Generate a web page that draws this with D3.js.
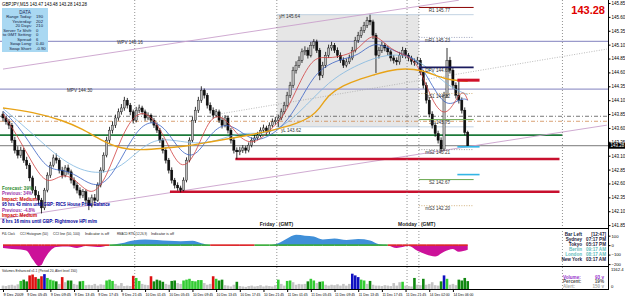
<!DOCTYPE html>
<html>
<head>
<meta charset="utf-8">
<script src="https://cdn.jsdelivr.net/npm/d3@7"></script>
<style>
  body { margin: 0; background: #fff; }
  svg { display: block; font-family: "Liberation Sans", Arial, sans-serif; }
</style>
</head>
<body>
<svg id="chart"></svg>
<script>
// ---- series (30 min bars, open = previous close) ----
const firstOpen = 143.85;
const barClose = [
  143.78,143.71,143.65,143.38,143.20,143.11,143.20,143.02,142.93,142.70,
  142.48,142.39,142.30,142.16,142.48,142.75,142.93,143.06,143.02,142.84,
  142.75,142.88,142.81,142.66,142.57,142.48,142.39,142.45,142.30,142.21,
  142.34,142.30,142.57,142.84,143.11,143.38,143.56,143.65,143.78,143.89,
  143.96,144.10,144.01,143.89,143.74,143.92,143.96,143.89,143.78,143.83,
  143.74,143.65,143.56,143.38,143.20,143.02,142.84,142.66,142.57,142.52,
  142.48,142.66,143.02,143.38,143.74,143.92,144.10,144.28,144.19,144.01,
  143.92,143.83,143.89,143.74,143.65,143.78,143.56,143.38,143.20,143.17,
  143.20,143.24,143.20,143.29,143.38,143.42,143.47,143.56,143.60,143.53,
  143.65,143.71,143.74,143.78,143.89,144.01,144.19,144.37,144.64,144.73,
  144.82,144.97,145.00,144.91,145.09,145.15,145.00,144.55,144.73,144.91,
  145.04,145.09,145.00,144.91,144.82,144.73,144.79,144.86,145.00,145.18,
  145.27,145.36,145.45,145.54,145.51,145.27,144.91,145.00,145.09,145.04,
  144.97,144.86,144.82,144.79,144.91,145.00,144.91,144.86,144.80,144.78,
  144.82,144.60,144.37,144.10,143.85,143.65,143.50,143.38,143.22,144.19,
  144.82,144.64,144.37,144.19,144.10,143.92,143.52,143.28
];
const barHigh = [
  143.90,143.82,143.76,143.69,143.44,143.27,143.26,143.24,143.08,142.97,
  142.74,142.55,142.46,142.34,142.52,142.80,142.99,143.12,143.14,143.06,
  142.90,142.93,142.94,142.85,142.71,142.62,142.53,142.50,142.49,142.35,
  142.40,142.41,142.62,142.89,143.16,143.44,143.62,143.72,143.84,143.95,
  144.03,144.16,144.14,144.05,143.93,143.98,144.02,144.00,143.93,143.88,
  143.86,143.78,143.70,143.60,143.42,143.25,143.06,142.89,142.70,142.62,
  142.56,142.71,143.07,143.43,143.80,143.98,144.16,144.35,144.31,144.23,
  144.06,143.97,143.94,143.93,143.79,143.83,143.82,143.60,143.43,143.25,
  143.26,143.29,143.28,143.34,143.43,143.48,143.53,143.61,143.66,143.64,
  143.70,143.77,143.80,143.84,143.95,144.07,144.25,144.43,144.70,144.80,
  144.89,145.03,145.07,145.05,145.15,145.20,145.19,145.04,144.79,144.97,
  145.10,145.15,145.13,145.05,144.96,144.87,144.85,144.92,145.06,145.24,
  145.33,145.42,145.51,145.60,145.64,145.55,145.31,145.06,145.15,145.13,
  145.08,145.01,144.91,144.87,144.97,145.06,145.04,144.95,144.90,144.85,
  144.88,144.86,144.64,144.42,144.15,143.90,143.70,143.55,143.43,144.25,
  145.04,144.88,144.69,144.42,144.46,144.15,143.97,143.55
];
const barLow = [
  143.72,143.66,143.58,143.33,143.14,143.05,143.06,142.97,142.86,142.64,
  142.42,142.33,142.22,142.06,142.12,142.44,142.70,142.89,142.96,142.78,
  142.69,142.71,142.76,142.60,142.51,142.42,142.33,142.34,142.24,142.12,
  142.17,142.25,142.27,142.53,142.80,143.07,143.33,143.50,143.60,143.73,
  143.84,143.91,143.95,143.83,143.68,143.70,143.87,143.84,143.73,143.74,
  143.69,143.60,143.51,143.33,143.14,142.96,142.78,142.60,142.51,142.47,
  142.44,142.46,142.62,142.98,143.34,143.69,143.87,144.05,144.13,143.95,
  143.86,143.77,143.79,143.69,143.59,143.61,143.50,143.32,143.14,143.04,
  143.11,143.15,143.14,143.16,143.25,143.33,143.38,143.43,143.51,143.48,
  143.49,143.61,143.66,143.62,143.74,143.85,143.97,144.14,144.32,144.58,
  144.68,144.77,144.91,144.85,144.87,145.03,144.95,144.46,144.50,144.68,
  144.86,144.99,144.95,144.86,144.77,144.68,144.69,144.75,144.82,144.96,
  145.13,145.22,145.31,145.40,145.45,145.20,144.59,144.85,144.95,144.98,
  144.91,144.80,144.76,144.73,144.74,144.86,144.85,144.80,144.74,144.72,
  144.74,144.55,144.31,144.04,143.79,143.59,143.44,143.32,143.16,143.18,
  144.14,144.58,144.31,144.13,144.04,143.86,143.47,143.26
];
const barVolume = [
  40,35,45,50,40,55,95,110,90,160,
  170,140,120,150,175,130,110,100,90,60,
  140,80,100,100,60,50,90,95,45,50,
  45,60,40,55,50,100,110,95,60,40,
  70,35,40,35,155,130,95,60,50,45,
  150,90,110,100,85,60,50,95,100,70,
  60,100,110,120,95,90,105,105,70,50,
  60,150,120,100,110,45,40,30,50,85,
  35,30,25,35,40,30,35,45,30,40,
  35,30,45,110,60,40,95,100,80,50,
  60,55,60,90,120,100,70,85,90,50,
  40,50,45,55,40,60,40,60,180,160,
  140,110,100,60,95,50,40,40,35,45,
  40,35,70,40,80,85,40,35,30,130,
  50,45,120,50,60,80,45,40,90,160,
  120,50,60,45,110,100,130,93
];
// CCI histogram, [bar, value]
const cciPoints = [
  [0,-30],[3,-40],[6,-45],[8,-60],[10,-150],[12,-220],[13,-210],[14,-150],[16,-60],[18,-20],
  [22,-15],[25,-30],[28,-10],[32,-20],[36,0],[40,20],[44,50],[48,60],[52,55],[56,45],
  [60,40],[64,45],[67,20],[70,0],[75,-5],[80,-10],[85,0],[90,0],[93,20],[96,70],
  [99,110],[102,100],[105,90],[108,60],[112,70],[116,55],[120,65],[124,50],[127,10],[130,0],
  [133,-30],[135,-20],[137,-10],[140,-60],[143,-100],[146,-120],[149,-70],[152,-40],[154,-70],[157,-50]
];
// moving averages, [bar, price]
const maSlow = [[0,143.96],[10,143.89],[20,143.74],[27,143.58],[33,143.38],[40,143.22],[47,143.20],
  [55,143.24],[62,143.27],[70,143.35],[80,143.44],[90,143.54],[100,143.69],[104,143.80],[107,143.95],
  [110,144.20],[115,144.37],[120,144.47],[125,144.55],[133,144.68],[142,144.65],[149,144.47],[157,144.44]];
const maFast = [[0,143.85],[5,143.45],[10,142.95],[15,142.55],[20,142.80],[25,142.65],[30,142.35],
  [35,142.70],[40,143.45],[45,143.90],[50,143.85],[55,143.40],[60,142.80],[65,143.10],[70,143.85],
  [75,143.80],[80,143.40],[85,143.30],[90,143.55],[95,143.80],[100,144.40],[105,144.90],[110,144.85],
  [115,144.90],[120,145.00],[125,145.35],[130,145.05],[135,144.92],[140,144.82],[145,144.05],
  [150,143.75],[155,144.35],[157,144.10]];
const maMid = [[0,143.90],[5,143.65],[10,143.25],[15,142.85],[20,142.85],[25,142.75],[30,142.55],
  [35,142.60],[40,143.05],[45,143.55],[50,143.75],[55,143.60],[60,143.15],[65,143.05],[70,143.50],
  [75,143.70],[80,143.55],[85,143.35],[90,143.45],[95,143.65],[100,144.05],[105,144.55],[110,144.75],
  [115,144.85],[120,144.90],[125,145.15],[130,145.05],[135,144.92],[140,144.85],[145,144.35],
  [150,143.95],[155,144.15],[157,144.10]];
const maLag = [[0,143.95],[10,143.50],[20,143.00],[30,142.75],[40,142.85],[50,143.45],[60,143.35],
  [70,143.30],[80,143.55],[90,143.45],[100,143.85],[110,144.45],[120,144.75],[130,144.95],
  [140,144.88],[150,144.35],[157,144.20]];

// axis labels
const priceTicks = [145.85,145.60,145.35,145.10,144.85,144.60,144.35,144.10,143.85,143.60,
  143.35,143.10,142.85,142.60,142.35,142.10,141.85];
const timeIdx = [0,8,16,24,32,40,48,56,64,72,80,88,96,104,112,120,128,136,144,152];
const timeLabels = ["9 Dec 2009","9 Dec 05:45","9 Dec 09:45","9 Dec 13:45","9 Dec 17:45","9 Dec 21:45",
  "10 Dec 01:45","10 Dec 05:45","10 Dec 09:45","10 Dec 13:45","10 Dec 17:45","10 Dec 21:45",
  "11 Dec 01:45","11 Dec 05:45","11 Dec 09:45","11 Dec 13:45","11 Dec 17:45","11 Dec 21:45",
  "14 Dec 02:00","14 Dec 06:00"];
const cciTicks = [100, 0, -100, -200];

// levels and sessions
const sessionLines = [44.5, 92.5, 136.5, 140.5, 189]; // bar positions of the dotted separators
const fridayStart = 92.5, mondayStart = 140.5, lastBar = 157;
const pivotNames = ["R1","mR1","DPV","mS1","S1","mS2","S2","mS3"];
const pivotValues = [145.77,145.23,144.69,144.22,143.75,143.21,142.67,142.20];
const weeklyPivot = 145.16, monthlyPivot = 144.30;
const prevHigh = 145.64, prevLow = 143.62;
const currentPrice = 143.28;
const openLevel = 143.47;
const dashLevels = [143.81, 143.72];
const supportLevels = [142.45, 143.04];
const supportFrom = [56.4, 78.5];
const supportTo = 188;
const trendUpper = [[0,144.66],[154,145.90]];
const trendLower = [[-1,141.96],[204,143.65]];
const trendMid = [[73,143.85],[204,145.02]];
const rangeMarks = [143.26, 142.76]; // light blue projections
const rangeBox = 144.46;

// texts
const titleText = "GBPJPY,M15  143.47 143.48 143.28 143.28";
const dataRows = [["Range Today:","190"],["Yesterday:","202"],["20 Days:","210"],["Server Tz Shift:","0"],
  ["to GMT Setting:","0"],["Spread:","6"],["Swap Long:","0.40"],["Swap Short:","-0.90"]];
const newsLines = ["Forecast: 39%","Previous: 34%","Impact: Medium",
  "95 hrs 43 mins until GBP: RICS House Price Balance","Previous: -4.8%","Impact: Medium",
  "8 hrs 16 mins until GBP: Rightmove HPI m/m"];
const clockRows = [["Bar Left","[12:47]"],["Sydney","07:17 PM"],["Tokyo","05:17 PM"],
  ["Berlin","09:17 AM"],["London","08:17 AM"],["New York","03:17 AM"]];
const volumeRows = [["Volume:","93 v"],["Percent:","19%"],["Alert:","150 v"]];

// ---- layout ----
const width = 625, height = 299, plotRight = 608;
const svg = d3.select("#chart").attr("width", width).attr("height", height);

const x = d3.scaleLinear().domain([0, 205]).range([3, 609.8]);
const y = d3.scaleLinear().domain([141.78, 145.904]).range([229, 0]);
const yCci = d3.scaleLinear().domain([-220, 170]).range([266, 229]);
const yVol = d3.scaleLinear().domain([0, 200]).range([289, 272]);

const defs = svg.append("defs");
function clip(id, x0, y0, w, h) {
  defs.append("clipPath").attr("id", id).append("rect")
    .attr("x", x0).attr("y", y0).attr("width", w).attr("height", h);
}
clip("clip-main", 0, 0, plotRight, 228);
clip("clip-cci-pos", 0, 229, plotRight, yCci(0) - 229);
clip("clip-cci-neg", 0, yCci(0), plotRight, 266 - yCci(0));
clip("clip-vol", 0, 267, plotRight, 22);

function txt(g, s, x0, y0, size, fill, opts = {}) {
  const t = g.append("text").attr("x", x0).attr("y", y0).attr("dy", "0.35em")
    .attr("font-size", size).attr("fill", fill).text(s);
  if (opts.anchor) t.attr("text-anchor", opts.anchor);
  if (opts.bold) t.attr("font-weight", "bold");
  if (opts.len) t.attr("textLength", opts.len).attr("lengthAdjust", "spacingAndGlyphs");
  return t;
}

const main = svg.append("g").attr("clip-path", "url(#clip-main)");

// previous day (Friday) range box
main.append("rect")
  .attr("x", x(fridayStart)).attr("width", x(mondayStart) - x(fridayStart))
  .attr("y", y(prevHigh)).attr("height", y(prevLow) - y(prevHigh))
  .attr("fill", "#e6e6e6");
[prevHigh, prevLow].forEach(p => {
  main.append("line").attr("x1", x(fridayStart)).attr("x2", x(lastBar + 2))
    .attr("y1", y(p)).attr("y2", y(p)).attr("stroke", "#b4c8dc").attr("stroke-width", 0.8);
});

// session separators (through all panels)
svg.append("g").selectAll("line").data(sessionLines).enter().append("line")
  .attr("x1", d => x(d)).attr("x2", d => x(d)).attr("y1", 0).attr("y2", 290)
  .attr("stroke", "#777").attr("stroke-width", 0.8).attr("stroke-dasharray", "1,2");

// weekly / monthly pivots
[weeklyPivot, monthlyPivot].forEach(p => {
  main.append("line").attr("x1", 0).attr("x2", plotRight).attr("y1", y(p)).attr("y2", y(p))
    .attr("stroke", "#9a9acb").attr("stroke-width", 1.3);
});

// dash-dot levels
dashLevels.forEach((p, i) => {
  main.append("line").attr("x1", 0).attr("x2", plotRight).attr("y1", y(p)).attr("y2", y(p))
    .attr("stroke", i === 0 ? "#555" : "#d08a50").attr("stroke-width", 0.8)
    .attr("stroke-dasharray", "4,2,1,2");
});

// open level and current price
main.append("line").attr("x1", 0).attr("x2", x(189)).attr("y1", y(openLevel)).attr("y2", y(openLevel))
  .attr("stroke", "#1d7a3a").attr("stroke-width", 1.6);
main.append("line").attr("x1", 0).attr("x2", plotRight).attr("y1", y(currentPrice)).attr("y2", y(currentPrice))
  .attr("stroke", "#555").attr("stroke-width", 0.8);

// trend lines
const seg = d3.line().x(d => x(d[0])).y(d => y(d[1]));
main.append("path").attr("d", seg(trendUpper)).attr("fill", "none").attr("stroke", "#c9a0cc").attr("stroke-width", 0.9);
main.append("path").attr("d", seg(trendLower)).attr("fill", "none").attr("stroke", "#c9a0cc").attr("stroke-width", 0.9);
main.append("path").attr("d", seg(trendMid)).attr("fill", "none").attr("stroke", "#aaa")
  .attr("stroke-width", 0.8).attr("stroke-dasharray", "1,1.5");

// support lines
supportLevels.forEach((p, i) => {
  main.append("line").attr("x1", x(supportFrom[i])).attr("x2", x(supportTo))
    .attr("y1", y(p)).attr("y2", y(p)).attr("stroke", "#c8102e").attr("stroke-width", 2.6);
});

// candles
const bars = barClose.map((c, i) => ({
  i, o: i ? barClose[i - 1] : firstOpen, h: barHigh[i], l: barLow[i], c, v: barVolume[i]
}));
const candle = main.append("g");
candle.selectAll("line").data(bars).enter().append("line")
  .attr("x1", d => x(d.i)).attr("x2", d => x(d.i))
  .attr("y1", d => y(d.h)).attr("y2", d => y(d.l))
  .attr("stroke", "#000").attr("stroke-width", 0.8);
candle.selectAll("rect").data(bars).enter().append("rect")
  .attr("x", d => x(d.i) - 1.1).attr("width", 2.2)
  .attr("y", d => y(Math.max(d.o, d.c)))
  .attr("height", d => Math.max(0.8, Math.abs(y(d.o) - y(d.c))))
  .attr("fill", d => d.c >= d.o ? "#bdbdbd" : "#111")
  .attr("stroke", "#000").attr("stroke-width", 0.4);

// moving averages
const maLine = d3.line().x(d => x(d[0])).y(d => y(d[1])).curve(d3.curveBasis);
[[maLag, "#7fb6e0", 0.8], [maMid, "#3a62c4", 0.8], [maFast, "#d04040", 0.8], [maSlow, "#e8a317", 1.4]]
  .forEach(([pts, col, w]) => {
    main.append("path").attr("d", maLine(pts)).attr("fill", "none")
      .attr("stroke", col).attr("stroke-width", w);
  });

// daily pivots (Monday only)
const pivotStyle = {
  R1: ["#8b0000", 1, null], mR1: ["#8890b0", 0.8, "1,1.5"], DPV: ["#1a1a5e", 1.6, null],
  mS1: ["#c8a060", 0.8, "1,1.5"], S1: ["#6aa84f", 1, null], mS2: ["#888", 0.8, "1,1.5"],
  S2: ["#6aa84f", 1, null], mS3: ["#c8a060", 0.8, "1,1.5"]
};
pivotNames.forEach((n, i) => {
  const [col, w, dash] = pivotStyle[n];
  const py = y(pivotValues[i]);
  const l = main.append("line").attr("x1", x(mondayStart)).attr("x2", x(lastBar + 2))
    .attr("y1", py).attr("y2", py).attr("stroke", col).attr("stroke-width", w);
  if (dash) l.attr("stroke-dasharray", dash);
  txt(main, n + "  " + pivotValues[i].toFixed(2), 450, py + 2.5, 4.6, "#333", { anchor: "end" });
});

// projection markers right of the last bar
rangeMarks.forEach(p => {
  main.append("line").attr("x1", x(153.5)).attr("x2", x(161)).attr("y1", y(p)).attr("y2", y(p))
    .attr("stroke", "#33b5e5").attr("stroke-width", 1.6);
});
main.append("rect").attr("x", x(153.5)).attr("width", x(161) - x(153.5))
  .attr("y", y(rangeBox) - 1.5).attr("height", 3).attr("fill", "#d0102a");

// level labels
txt(main, "WPV  " + weeklyPivot.toFixed(2), 117, y(weeklyPivot) + 1, 4.6, "#333");
txt(main, "MPV  " + monthlyPivot.toFixed(2), 67, y(monthlyPivot) + 1.5, 4.6, "#333");
txt(main, "yH  " + prevHigh.toFixed(2), 279, y(prevHigh) + 1.5, 4.6, "#333");
txt(main, "yL  " + prevLow.toFixed(2), 281, y(prevLow) + 3.5, 4.6, "#333");

// news block
const newsColors = ["#2e8b2e", "#9933aa", "#cc0000", "#000099", "#9933aa", "#cc0000", "#000099"];
const newsWidths = [31, 30, 35, 108, 33, 35, 95];
const newsY = [188, 193.5, 199, 204.5, 210, 215.5, 221];
newsLines.forEach((s, i) => txt(svg, s, 2, newsY[i], 5.2, newsColors[i], { bold: true, len: newsWidths[i] }));

// Friday / Monday GMT labels
[[fridayStart, "Friday"], [mondayStart, "Monday"]].forEach(([b, s]) => {
  txt(svg, s, x(b) - 2, 224.5, 5, "#222", { anchor: "end", bold: true });
  txt(svg, "(GMT)", x(b) + 2, 224.5, 5, "#222", { bold: true });
});

// DATA box
svg.append("rect").attr("x", 2).attr("y", 8).attr("width", 46).attr("height", 44).attr("fill", "#a9d8f2");
txt(svg, "DATA", 25, 12.5, 4.6, "#1a2a5a", { anchor: "middle" });
dataRows.forEach((r, i) => {
  txt(svg, r[0], 32, 17 + i * 4.5, 4.2, "#102040", { anchor: "end" });
  txt(svg, r[1], 36, 17 + i * 4.5, 4.2, "#102040");
});

// title and big price
txt(svg, titleText, 2, 4, 4.6, "#000", { len: 85 });
txt(svg, currentPrice.toFixed(2), 605, 10, 11, "#e00000", { anchor: "end", bold: true });

// ---- CCI panel ----
const cciArea = d3.area().x(d => x(d[0])).y0(yCci(0)).y1(d => yCci(d[1])).curve(d3.curveMonotoneX);
svg.append("path").attr("d", cciArea(cciPoints)).attr("fill", "#3f8fd8").attr("clip-path", "url(#clip-cci-pos)");
svg.append("path").attr("d", cciArea(cciPoints)).attr("fill", "#cc1199").attr("clip-path", "url(#clip-cci-neg)");
const zero = svg.append("g");
d3.pairs(cciPoints).forEach(([a, b]) => {
  zero.append("line").attr("x1", x(a[0])).attr("x2", x(b[0])).attr("y1", yCci(0)).attr("y2", yCci(0))
    .attr("stroke", a[1] + b[1] >= 0 ? "#33aa33" : "#dd2222").attr("stroke-width", 1.6);
});
const cciHead = ["P4L Clock", "CCI Histogram (50)", "CCI line (50, 100)",
  "Indicator is off", "RMACD RTN (12,26,9)", "Indicator is off"];
const cciHeadX = [2, 20, 53, 85, 117, 151];
const cciHeadW = [13, 28, 27, 24, 30, 23];
cciHead.forEach((s, i) => txt(svg, s, cciHeadX[i], 234, 3, "#222", { len: cciHeadW[i] }));

clockRows.forEach((r, i) => {
  const col = (i === 3 || i === 4) ? "#5fbcbc" : "#1a1a3a";
  txt(svg, r[0], 582, 234 + i * 5, 4.6, col, { anchor: "end", bold: true });
  txt(svg, r[1], 606, 234 + i * 5, 4.6, col, { anchor: "end", bold: true });
});

// ---- volume panel ----
svg.append("g").attr("clip-path", "url(#clip-vol)").selectAll("rect").data(bars).enter().append("rect")
  .attr("x", d => x(d.i) - 1.3).attr("width", 2.6)
  .attr("y", d => yVol(d.v)).attr("height", d => yVol(0) - yVol(d.v))
  .attr("fill", d => d.v >= 140 ? (d.c >= d.o ? "#1010c0" : "#dd1111")
    : d.v >= 85 ? (d.c >= d.o ? "#33cc33" : "#118811") : "#c4c4c4");
txt(svg, "Volumes Enhanced v1.1 (Period 20, Alert level 150)", 2, 271, 4.2, "#222", { len: 75 });
const volCols = ["#9933cc", "#555", "#aaa"];
volumeRows.forEach((r, i) => {
  txt(svg, r[0], 563, 277 + i * 4.6, 4.6, volCols[i], { bold: true });
  txt(svg, r[1], 604, 277 + i * 4.6, 4.6, volCols[i], { anchor: "end", bold: true });
});

// ---- frame and axes ----
const frame = svg.append("g").attr("stroke", "#000").attr("stroke-width", 1);
[228.5, 266.5, 289.5].forEach(fy => frame.append("line").attr("x1", 0).attr("x2", plotRight + 0.5).attr("y1", fy).attr("y2", fy));
frame.append("line").attr("x1", plotRight + 0.5).attr("x2", plotRight + 0.5).attr("y1", 0).attr("y2", 290);

const yAxis = svg.append("g").attr("transform", `translate(${plotRight + 0.5},0)`)
  .call(d3.axisRight(y).tickValues(priceTicks).tickSize(2).tickPadding(1).tickFormat(d3.format(".2f")));
yAxis.select(".domain").remove();
yAxis.selectAll("text").attr("font-size", 4.5).attr("font-family", "Liberation Sans, Arial");

const cAxis = svg.append("g").attr("transform", `translate(${plotRight + 0.5},0)`)
  .call(d3.axisRight(yCci).tickValues(cciTicks).tickSize(2).tickPadding(1));
cAxis.select(".domain").remove();
cAxis.selectAll("text").attr("font-size", 4.2).attr("font-family", "Liberation Sans, Arial");

txt(svg, "1162.4", 611, 270, 4.2, "#000");
txt(svg, "0", 611, 287, 4.2, "#000");

// current price tag on axis
svg.append("rect").attr("x", plotRight + 1).attr("y", y(currentPrice) - 3).attr("width", 16).attr("height", 6).attr("fill", "#000");
txt(svg, currentPrice.toFixed(2), plotRight + 2.5, y(currentPrice), 4.5, "#fff");

const xAxis = svg.append("g").attr("transform", "translate(0,290)")
  .call(d3.axisBottom(x).tickValues(timeIdx).tickSize(2).tickPadding(1).tickFormat((d, i) => timeLabels[i]));
xAxis.select(".domain").remove();
xAxis.selectAll("text").attr("text-anchor", "start").attr("font-size", 4.2)
  .attr("font-family", "Liberation Sans, Arial").attr("textLength", 20).attr("lengthAdjust", "spacingAndGlyphs");
</script>
</body>
</html>
